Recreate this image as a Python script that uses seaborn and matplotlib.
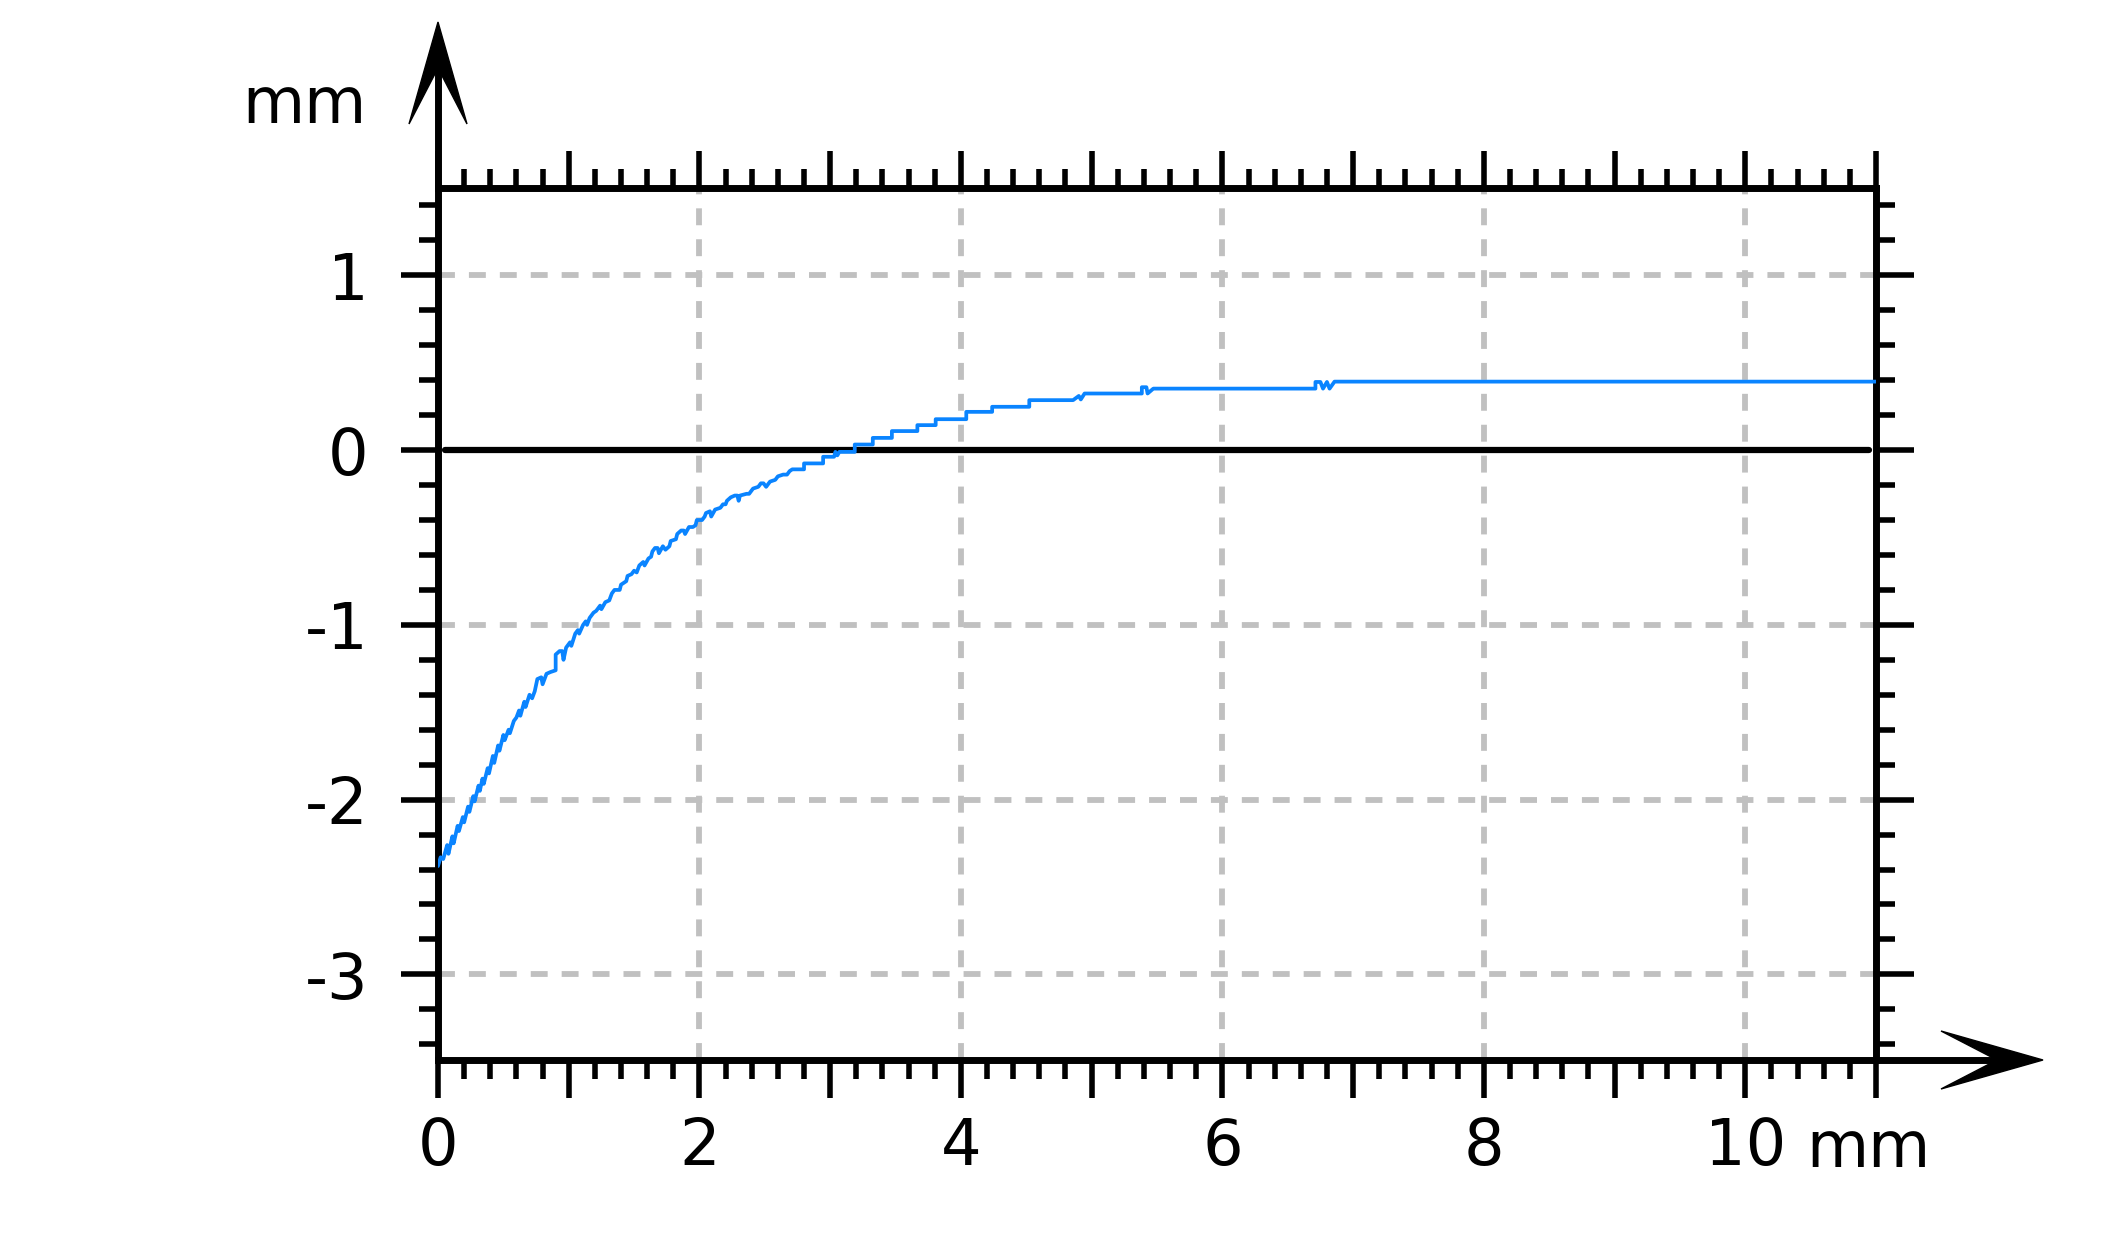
import matplotlib
matplotlib.use("Agg")
import matplotlib.pyplot as plt
from matplotlib.patches import Polygon
from matplotlib.lines import Line2D
from matplotlib.ticker import MultipleLocator
import seaborn as sns
import pandas as pd

# measured profile (mm)
x_mm = [0.00, 0.02, 0.04, 0.07, 0.08, 0.11, 0.12, 0.15, 0.16, 0.19, 0.20, 0.23, 0.24,
        0.27, 0.28, 0.31, 0.32, 0.34, 0.35, 0.38, 0.39, 0.42, 0.43, 0.46, 0.47, 0.50,
        0.51, 0.54, 0.55, 0.58, 0.60, 0.62, 0.63, 0.66, 0.67, 0.70, 0.72, 0.74, 0.76,
        0.79, 0.80, 0.83, 0.86, 0.90, 0.90, 0.93, 0.95, 0.96, 0.98, 1.01, 1.02, 1.05,
        1.07, 1.08, 1.11, 1.13, 1.14, 1.16, 1.19, 1.21, 1.24, 1.25, 1.28, 1.31, 1.33,
        1.35, 1.39, 1.40, 1.44, 1.45, 1.48, 1.50, 1.52, 1.54, 1.57, 1.58, 1.61, 1.63,
        1.64, 1.66, 1.68, 1.69, 1.72, 1.74, 1.77, 1.78, 1.82, 1.83, 1.86, 1.88, 1.89,
        1.92, 1.95, 1.97, 1.98, 2.02, 2.04, 2.05, 2.08, 2.09, 2.12, 2.16, 2.18, 2.20,
        2.21, 2.24, 2.27, 2.29, 2.30, 2.31, 2.36, 2.38, 2.41, 2.45, 2.47, 2.49, 2.51,
        2.54, 2.58, 2.60, 2.64, 2.67, 2.69, 2.71,
        2.80, 2.80, 2.946, 2.946, 3.03, 3.04, 3.055, 3.07, 3.188, 3.188, 3.326, 3.326,
        3.472, 3.472, 3.667, 3.667, 3.807, 3.807, 4.041, 4.041, 4.239, 4.239, 4.523,
        4.523, 4.858, 4.902, 4.917, 4.946, 5.384, 5.384, 5.419, 5.428, 5.472, 6.712,
        6.712, 6.75, 6.77, 6.80, 6.82, 6.858, 11.0]
y_mm = [-2.38, -2.33, -2.34, -2.26, -2.31, -2.21, -2.25, -2.15, -2.18, -2.10, -2.13, -2.04, -2.07,
        -1.98, -2.01, -1.92, -1.95, -1.88, -1.91, -1.82, -1.85, -1.75, -1.79, -1.69, -1.72, -1.63,
        -1.66, -1.60, -1.62, -1.55, -1.53, -1.49, -1.52, -1.44, -1.47, -1.40, -1.42, -1.38, -1.31,
        -1.30, -1.34, -1.28, -1.27, -1.26, -1.17, -1.15, -1.15, -1.20, -1.13, -1.10, -1.12, -1.05,
        -1.03, -1.05, -1.00, -0.98, -1.00, -0.96, -0.93, -0.92, -0.89, -0.91, -0.87, -0.86, -0.82,
        -0.80, -0.80, -0.77, -0.75, -0.72, -0.71, -0.69, -0.70, -0.66, -0.64, -0.66, -0.62, -0.61,
        -0.58, -0.56, -0.56, -0.59, -0.55, -0.57, -0.55, -0.52, -0.51, -0.48, -0.46, -0.46, -0.48,
        -0.44, -0.44, -0.43, -0.40, -0.40, -0.38, -0.36, -0.35, -0.38, -0.34, -0.33, -0.31, -0.31,
        -0.29, -0.27, -0.26, -0.26, -0.29, -0.26, -0.25, -0.25, -0.22, -0.21, -0.19, -0.19, -0.21,
        -0.18, -0.17, -0.15, -0.14, -0.14, -0.12, -0.11,
        -0.11, -0.076, -0.076, -0.038, -0.038, -0.01, -0.03, -0.01, -0.01, 0.032, 0.032, 0.070,
        0.070, 0.109, 0.109, 0.143, 0.143, 0.177, 0.177, 0.219, 0.219, 0.248, 0.248,
        0.286, 0.286, 0.31, 0.29, 0.324, 0.324, 0.36, 0.36, 0.324, 0.352, 0.352,
        0.39, 0.39, 0.352, 0.39, 0.352, 0.392, 0.392]

x_ticks = [0, 1, 2, 3, 4, 5, 6, 7, 8, 9, 10, 11]
x_labels = ['0', '', '2', '', '4', '', '6', '', '8', '', '10', '']
y_ticks = [-3, -2, -1, 0, 1]
y_labels = ['-3', '-2', '-1', '0', '1']
x_grid = [2, 4, 6, 8, 10]
y_grid = [-3, -2, -1, 1]

W, H = 2126, 1233


def fig_xy(px, py):
    return (px / W, 1 - py / H)


sns.set_theme(style='white')
plt.rcParams['font.family'] = ['DejaVu Sans']

fig = plt.figure(figsize=(W / 100, H / 100), dpi=100)
ax = fig.add_axes([438 / W, 1 - 1060 / H, (1876 - 438) / W, (1060 - 188) / H])

grid_kw = dict(color='#c0c0c0', lw=4.2, dashes=(2.9, 2.4), zorder=1)
for g in x_grid:
    ax.axvline(g, **grid_kw)
for g in y_grid:
    ax.axhline(g, **grid_kw)
ax.axhline(0, color='black', lw=4.5, xmin=0.005, xmax=0.995, zorder=2)

df = pd.DataFrame({'x': x_mm, 'y': y_mm})
sns.lineplot(data=df, x='x', y='y', sort=False, estimator=None,
             color='#0a84ff', lw=2.7, ax=ax, zorder=3)

ax.set_xlim(0, 11)
ax.set_ylim(-3.49, 1.5)
ax.set_xlabel('')
ax.set_ylabel('')
ax.set_xticks(x_ticks)
ax.set_xticklabels(x_labels)
ax.set_yticks(y_ticks)
ax.set_yticklabels(y_labels)
ax.xaxis.set_minor_locator(MultipleLocator(0.2))
ax.yaxis.set_minor_locator(MultipleLocator(0.2))

ax.tick_params(which='both', direction='out', width=4.0, color='black',
               bottom=True, left=True, top=True, right=True)
ax.tick_params(which='major', length=27, labelsize=46, labelcolor='black')
ax.tick_params(which='minor', length=13.5)
ax.tick_params(axis='x', which='major', pad=13)
ax.tick_params(axis='y', which='major', pad=23)
for s in ax.spines.values():
    s.set_linewidth(5.0)
    s.set_color('black')

# units
ax.text(10.47, (1060 - 1167) / (1060 - 188), 'mm', transform=ax.get_xaxis_transform(),
        ha='left', va='baseline', fontsize=46, color='black')
fig.text(*fig_xy(367, 123), 'mm', ha='right', va='baseline', fontsize=46, color='black')

# axis arrows
fig.add_artist(Line2D(*zip(fig_xy(438, 188), fig_xy(438, 70)), color='black', lw=5.0,
                      transform=fig.transFigure))
fig.add_artist(Polygon([fig_xy(438, 22), fig_xy(409, 124), fig_xy(438, 68), fig_xy(467, 124)],
                       closed=True, fc='black', ec='black', lw=1, transform=fig.transFigure))
fig.add_artist(Line2D(*zip(fig_xy(1876, 1060), fig_xy(2000, 1060)), color='black', lw=5.0,
                      transform=fig.transFigure))
fig.add_artist(Polygon([fig_xy(2043, 1060), fig_xy(1941, 1031), fig_xy(1997, 1060), fig_xy(1941, 1089)],
                       closed=True, fc='black', ec='black', lw=1, transform=fig.transFigure))

fig.savefig('out.png', dpi=100, facecolor='white')
